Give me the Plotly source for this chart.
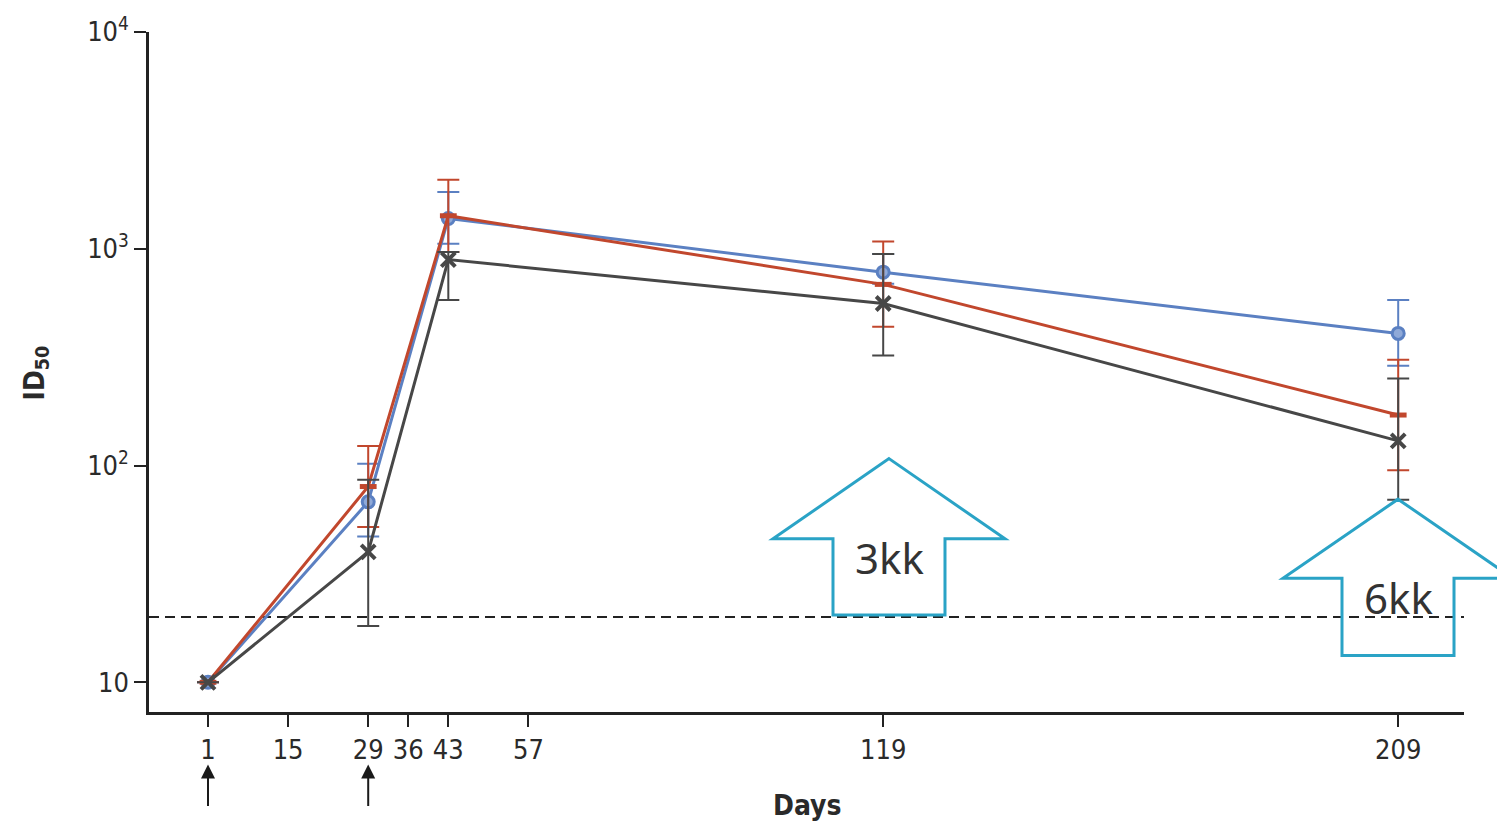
import plotly.graph_objects as go

# ---------------- data ----------------
days = [1, 29, 43, 119, 209]

blue = [10, 68, 1380, 780, 407]
blue_hi = [10, 102, 1827, 946, 581]
blue_lo = [10, 47, 1055, 690, 289]

red = [10, 80, 1420, 685, 171]
red_hi = [10, 123, 2080, 1080, 308]
red_lo = [10, 52, 966, 437, 95]

black = [10, 40, 891, 559, 130]
black_hi = [10, 86, 966, 946, 252]
black_lo = [10, 18.2, 580, 322, 69.5]

x_ticks = [1, 15, 29, 36, 43, 57, 119, 209]
y_tickvals = [10, 100, 1000, 10000]
y_ticktext = ["10", "10<sup>2</sup>", "10<sup>3</sup>", "10<sup>4</sup>"]
threshold = 20
dose_days = [1, 29]
labels = ["3kk", "6kk"]

# ---------------- layout geometry ----------------
W_FIG, H_FIG = 1497, 824
L, R, T, B = 149, 33, 25, 112
PW, PH = W_FIG - L - R, H_FIG - T - B


def px2x(px):
    return (px - L) / PW


def py2y(py):
    return (T + PH - py) / PH


BLUE = "#5b80c2"
RED = "#c1472d"
DARK = "#474747"
CYAN = "#2aa3c6"
FAM = "Liberation Sans Narrow, DejaVu Sans Condensed, Arial Narrow, Noto Sans"
TICKFONT = dict(family=FAM, size=27, color="#2a2a2a")


def series(y, hi, lo, color, symbol, size, mlw, fill):
    return go.Scatter(
        x=days, y=y, mode="lines+markers",
        line=dict(color=color, width=3),
        marker=dict(symbol=symbol, size=size, color=fill,
                    line=dict(color=color, width=mlw)),
        error_y=dict(type="data", symmetric=False,
                     array=[h - v for h, v in zip(hi, y)],
                     arrayminus=[v - l for v, l in zip(y, lo)],
                     color=color, thickness=2, width=11),
        showlegend=False, hoverinfo="skip",
    )


fig = go.Figure()
fig.add_trace(series(blue, blue_hi, blue_lo, BLUE, "circle", 12, 3, "#8fa9d8"))
fig.add_trace(series(red, red_hi, red_lo, RED, "line-ew", 12, 5, RED))
fig.add_trace(series(black, black_hi, black_lo, DARK, "x-thin", 14, 4, DARK))

shapes = [
    dict(type="line", xref="paper", yref="y", x0=0, x1=1, y0=threshold, y1=threshold,
         line=dict(color="#222222", width=2, dash="10px,6px"), layer="below"),
]

# outlined up-arrows with labels
arrows = [
    dict(tip=(889, 456), wl=773, sl=833, sr=945, wr=1005, wy=537, bot=614, txt=(889, 556)),
    dict(tip=(1398, 497), wl=1283, sl=1342, sr=1454, wr=1513, wy=577, bot=655, txt=(1398, 596)),
]
annotations = []
for a, lab in zip(arrows, labels):
    pts = [a["tip"], (a["wr"], a["wy"]), (a["sr"], a["wy"]), (a["sr"], a["bot"]),
           (a["sl"], a["bot"]), (a["sl"], a["wy"]), (a["wl"], a["wy"])]
    path = "M " + " L ".join(f"{px2x(x):.5f},{py2y(y):.5f}" for x, y in pts) + " Z"
    shapes.append(dict(type="path", xref="paper", yref="paper", path=path,
                       line=dict(color=CYAN, width=3), fillcolor="rgba(0,0,0,0)"))
    annotations.append(dict(xref="paper", yref="paper", x=px2x(a["txt"][0]), y=py2y(a["txt"][1]),
                            xanchor="center", yanchor="middle",
                            text=lab, showarrow=False,
                            font=dict(family="Noto Sans", size=42, color="#333333")))

# dose arrows below the axis
for d in dose_days:
    annotations.append(dict(xref="x", yref="paper", x=d, y=py2y(765), text="",
                            showarrow=True, arrowhead=2, arrowsize=1.4, arrowwidth=2,
                            arrowcolor="#1a1a1a", ax=0, ay=43, standoff=0))

annotations.append(dict(xref="paper", yref="paper", x=px2x(36), y=py2y(370),
                        xanchor="center", yanchor="middle",
                        text="<b>ID<sub>50</sub></b>", textangle=-90, showarrow=False,
                        font=dict(family=FAM, size=28, color="#2a2a2a")))
annotations.append(dict(xref="paper", yref="paper", x=px2x(807), y=py2y(806),
                        xanchor="center", yanchor="middle",
                        text="<b>Days</b>", showarrow=False,
                        font=dict(family=FAM, size=28, color="#2a2a2a")))

fig.update_layout(
    width=W_FIG, height=H_FIG,
    margin=dict(l=L, r=R, t=T, b=B, pad=0),
    paper_bgcolor="white", plot_bgcolor="white",
    shapes=shapes, annotations=annotations,
    xaxis=dict(range=[-9.31, 220.5], tickvals=x_ticks, ticktext=[str(v) for v in x_ticks],
               showgrid=False, zeroline=False, showline=True, linecolor="#222222", linewidth=2.5,
               ticks="outside", ticklen=12, tickwidth=2, tickcolor="#222222", tickfont=TICKFONT),
    yaxis=dict(type="log", range=[0.863, 4.0], tickvals=y_tickvals, ticktext=y_ticktext,
               showgrid=False, zeroline=False, showline=True, linecolor="#222222", linewidth=2.5,
               ticks="outside", ticklen=12, tickwidth=2, tickcolor="#222222", tickfont=TICKFONT),
)

fig.write_html("out.html")
